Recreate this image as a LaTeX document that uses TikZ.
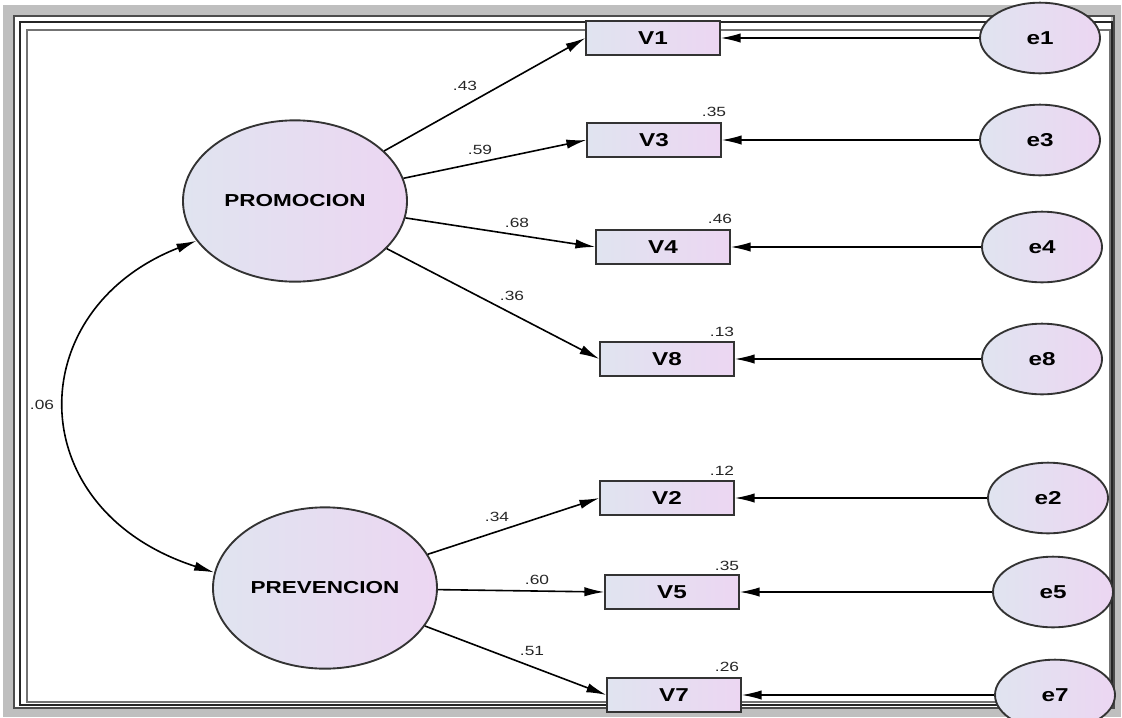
\documentclass[tikz,border=0pt]{standalone}
\usepackage{fontspec}
\setmainfont{Liberation Sans}[FakeStretch=1.3]
\usetikzlibrary{shapes.geometric,positioning,arrows.meta}
\definecolor{vleft}{RGB}{224,228,240}
\definecolor{vright}{RGB}{236,214,242}

\begin{document}
\begin{tikzpicture}
  [x=0.75pt,y=-0.75pt,
   factor/.style={
    ellipse,
    draw=black!80,
    line width=1.4pt,
    left color=vleft,
    right color=vright,
    minimum width=168pt,
    minimum height=121pt,
    inner sep=0pt,
    font=\fontsize{13}{15}\selectfont\bfseries
    },
   obs/.style={
    rectangle,
    draw=black!80,
    line width=1.4pt,
    left color=vleft,
    right color=vright,
    minimum width=100pt,
    minimum height=25pt,
    inner sep=0pt,
    font=\fontsize{14}{16}\selectfont\bfseries
    },
   err/.style={
    ellipse,
    draw=black!80,
    line width=1.4pt,
    left color=vleft,
    right color=vright,
    minimum width=90pt,
    minimum height=53pt,
    inner sep=0pt,
    font=\fontsize{14}{16}\selectfont\bfseries
    },
   coef/.style={font=\fontsize{10}{12}\selectfont, text=black!85, inner sep=0pt},
   load/.style={-{Latex[length=15pt,width=7pt]}, line width=1.2pt},
   cov/.style={{Latex[length=15pt,width=7pt]}-{Latex[length=15pt,width=7pt]}, line width=1.2pt}
  ]
  \useasboundingbox (0,0) rectangle (1122,718);

  % cornice
  \draw[black!25, line width=8pt] (8,10) rectangle (1116,712);
  \draw[black!70, line width=1pt] (14,16) rectangle (1114,708);
  \draw[black!85, line width=1pt] (20,22) rectangle (1112,705);
  \draw[black!55, line width=0.8pt] (27,30) rectangle (1110,702);

  % fattori
  \node[factor] (promocion) at (295,201) {PROMOCION};
  \node[factor] (prevencion) at (325,588) {PREVENCION};

  % variabili osservate
  \node[obs] (v1) at (653,38) {V1};
  \node[obs] (v3) at (654,140) {V3};
  \node[obs] (v4) at (663,247) {V4};
  \node[obs] (v8) at (667,359) {V8};
  \node[obs] (v2) at (667,498) {V2};
  \node[obs] (v5) at (672,592) {V5};
  \node[obs] (v7) at (674,695) {V7};

  % errori
  \node[err] (e1) at (1040,38) {e1};
  \node[err] (e3) at (1040,140) {e3};
  \node[err] (e4) at (1042,247) {e4};
  \node[err] (e8) at (1042,359) {e8};
  \node[err] (e2) at (1048,498) {e2};
  \node[err] (e5) at (1053,592) {e5};
  \node[err] (e7) at (1055,695) {e7};

  \draw[load] (promocion) -- (v1.west);
  \draw[load] (promocion) -- (v3.west);
  \draw[load] (promocion) -- (v4.west);
  \draw[load] (promocion) -- (v8.west);
  \draw[load] (prevencion) -- (v2.west);
  \draw[load] (prevencion) -- (v5.west);
  \draw[load] (prevencion) -- (v7.west);

  \draw[load] (e1) -- (v1);
  \draw[load] (e3) -- (v3);
  \draw[load] (e4) -- (v4);
  \draw[load] (e8) -- (v8);
  \draw[load] (e2) -- (v2);
  \draw[load] (e5) -- (v5);
  \draw[load] (e7) -- (v7);

  % TODO curva covarianza
  \draw[cov] (promocion.202) .. controls (20,310) and (20,510) .. (prevencion.172);
  \node[coef] (c06) at (42,405) {.06};

  % saturazioni
  \node[coef] (c43) at (465,86) {.43};
  \node[coef] (c59) at (480,150) {.59};
  \node[coef] (c68) at (517,223) {.68};
  \node[coef] (c36) at (512,296) {.36};
  \node[coef] (c34) at (497,517) {.34};
  \node[coef] (c60) at (537,580) {.60};
  \node[coef] (c51) at (532,651) {.51};

  % R quadro
  \node[coef] (r3) at (714,112) {.35};
  \node[coef] (r4) at (720,219) {.46};
  \node[coef] (r8) at (722,332) {.13};
  \node[coef] (r2) at (722,471) {.12};
  \node[coef] (r5) at (727,566) {.35};
  \node[coef] (r7) at (727,667) {.26};
\end{tikzpicture}
\end{document}
